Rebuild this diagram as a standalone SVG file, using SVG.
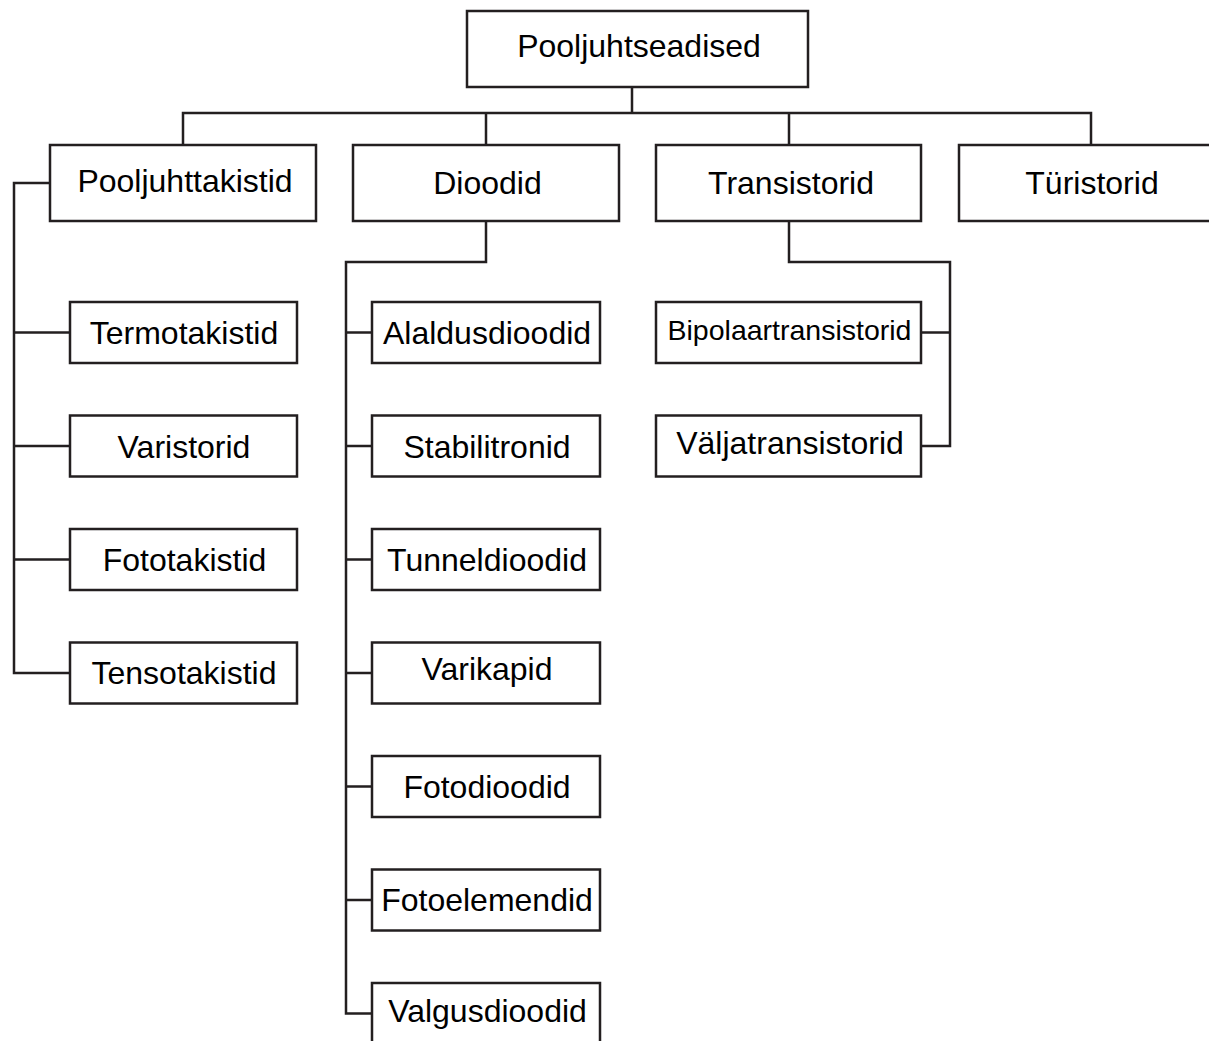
<svg xmlns="http://www.w3.org/2000/svg" width="1209" height="1041" viewBox="0 0 1209 1041">
<style>
.box{fill:#fff;stroke:#231f20;stroke-width:2.5}
.lbl{font-family:"Liberation Sans",Arial,sans-serif;font-size:32px;fill:#000;text-anchor:middle}
.sm{font-size:28.5px}
.con{fill:none;stroke:#231f20;stroke-width:2.5;stroke-linejoin:miter;stroke-linecap:square}
</style>
<rect width="1209" height="1041" fill="#fff"/>
<g id="connectors" class="con">
<path d="M632,87 V113 M183,113 H1091 M183,113 V145 M486,113 V145 M789,113 V145 M1091,113 V145"/>
<path d="M50,183 H14 V673 H70 M14,332.5 H70 M14,446 H70 M14,559.5 H70"/>
<path d="M486,221 V262 H346 V1013.5 H372 M346,332.5 H372 M346,446 H372 M346,559.5 H372 M346,673 H372 M346,786.5 H372 M346,900 H372"/>
<path d="M789,221 V262 H950 V446 H921 M950,332.5 H921"/>
</g>
<g id="n-pooljuhtseadised"><rect class="box" x="467" y="11" width="341" height="76"/><text class="lbl" x="639" y="57">Pooljuhtseadised</text></g>
<g id="n-pooljuhttakistid"><rect class="box" x="50" y="145" width="266" height="76"/><text class="lbl" x="185" y="192">Pooljuhttakistid</text></g>
<g id="n-dioodid"><rect class="box" x="353" y="145" width="266" height="76"/><text class="lbl" x="487.5" y="193.5">Dioodid</text></g>
<g id="n-transistorid"><rect class="box" x="656" y="145" width="265" height="76"/><text class="lbl" x="791" y="193.5">Transistorid</text></g>
<g id="n-turistorid"><rect class="box" x="959" y="145" width="266" height="76"/><text class="lbl" x="1092" y="193.5">Türistorid</text></g>
<g id="n-termotakistid"><rect class="box" x="70" y="302" width="227" height="61"/><text class="lbl" x="184" y="343.5">Termotakistid</text></g>
<g id="n-varistorid"><rect class="box" x="70" y="415.5" width="227" height="61"/><text class="lbl" x="184" y="457.5">Varistorid</text></g>
<g id="n-fototakistid"><rect class="box" x="70" y="529" width="227" height="61"/><text class="lbl" x="184.5" y="570.5">Fototakistid</text></g>
<g id="n-tensotakistid"><rect class="box" x="70" y="642.5" width="227" height="61"/><text class="lbl" x="184" y="683.5">Tensotakistid</text></g>
<g id="n-alaldusdioodid"><rect class="box" x="372" y="302" width="228" height="61"/><text class="lbl" x="487" y="343.5">Alaldusdioodid</text></g>
<g id="n-stabilitronid"><rect class="box" x="372" y="415.5" width="228" height="61"/><text class="lbl" x="487" y="457.5">Stabilitronid</text></g>
<g id="n-tunneldioodid"><rect class="box" x="372" y="529" width="228" height="61"/><text class="lbl" x="487" y="570.5">Tunneldioodid</text></g>
<g id="n-varikapid"><rect class="box" x="372" y="642.5" width="228" height="61"/><text class="lbl" x="487" y="680">Varikapid</text></g>
<g id="n-fotodioodid"><rect class="box" x="372" y="756" width="228" height="61"/><text class="lbl" x="487" y="797.5">Fotodioodid</text></g>
<g id="n-fotoelemendid"><rect class="box" x="372" y="869.5" width="228" height="61"/><text class="lbl" x="487" y="910.5">Fotoelemendid</text></g>
<g id="n-valgusdioodid"><rect class="box" x="372" y="983" width="228" height="61"/><text class="lbl" x="487.5" y="1021.5">Valgusdioodid</text></g>
<g id="n-bipolaartransistorid"><rect class="box" x="656" y="302" width="265" height="61"/><text class="lbl sm" x="789.5" y="339.5">Bipolaartransistorid</text></g>
<g id="n-valjatransistorid"><rect class="box" x="656" y="415.5" width="265" height="61"/><text class="lbl" x="790" y="453.5">Väljatransistorid</text></g>
</svg>
